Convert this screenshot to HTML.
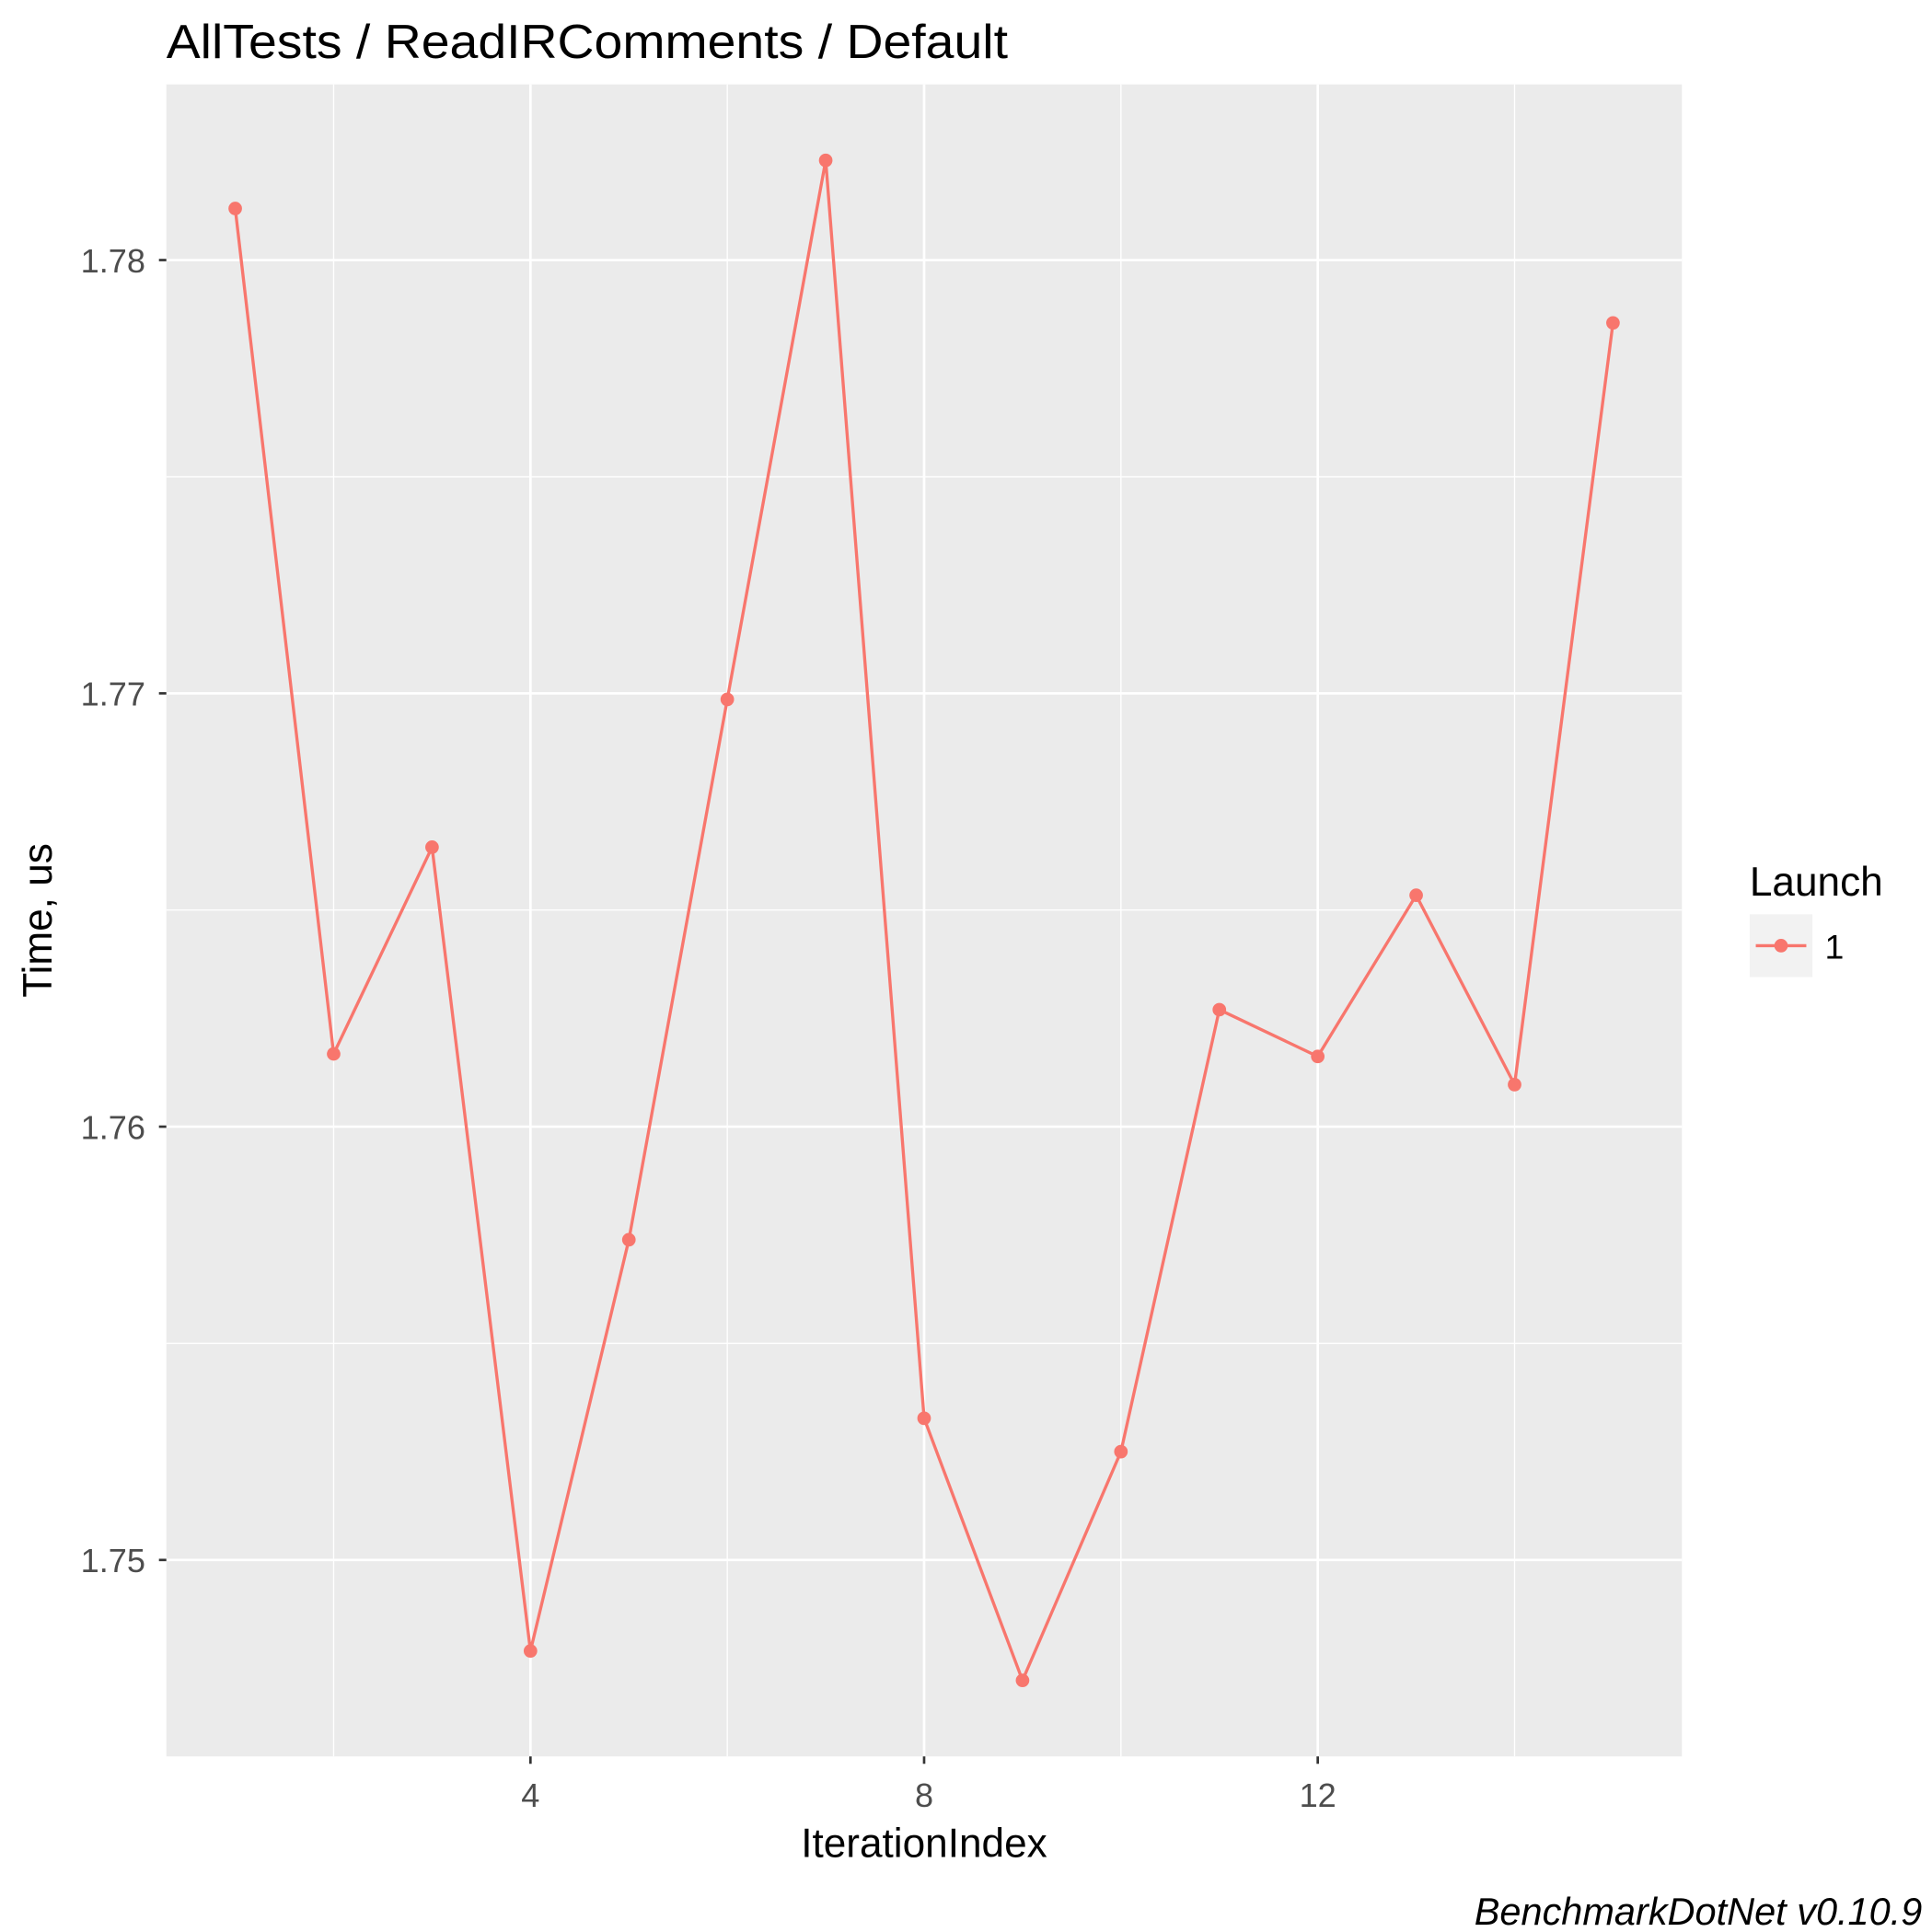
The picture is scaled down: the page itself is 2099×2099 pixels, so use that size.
<!DOCTYPE html>
<html><head><meta charset="utf-8"><style>
html,body{margin:0;padding:0;background:#fff}
svg{display:block}
text{font-family:"Liberation Sans",Arial,sans-serif}
</style></head><body>
<svg id="chart" width="2099" height="2099" viewBox="0 0 1568 1568" xmlns="http://www.w3.org/2000/svg">
<rect width="1568" height="1568" fill="#fff"/>
<text x="135" y="47" font-size="39" fill="#000" textLength="683" lengthAdjust="spacingAndGlyphs">AllTests / ReadIRComments / Default</text>
<rect x="135" y="68.5" width="1230" height="1357" fill="#ebebeb"/>
<g id="grid"></g>
<g id="series"></g>
<g id="axes"></g>
<text x="750" y="1507" font-size="33" text-anchor="middle" fill="#000">IterationIndex</text>
<text transform="translate(42,747) rotate(-90)" font-size="33" text-anchor="middle" fill="#000">Time, us</text>
<text x="1420" y="727" font-size="33" fill="#000">Launch</text>
<rect x="1420" y="742" width="51" height="51" fill="#f2f2f2"/>
<line x1="1425" y1="767.5" x2="1466" y2="767.5" stroke="#f8766d" stroke-width="2.5"/>
<circle cx="1445.5" cy="767.5" r="5.5" fill="#f8766d"/>
<text x="1481" y="778" font-size="28" fill="#000">1</text>
<text x="1560" y="1562" font-size="31" font-style="italic" text-anchor="end" fill="#000">BenchmarkDotNet v0.10.9</text>
</svg>
<script>
const iterations=[1,2,3,4,5,6,7,8,9,10,11,12,13,14,15];
const times=[1.78119,1.76168,1.76645,1.74790,1.75739,1.76986,1.7823,1.75327,1.74722,1.7525,1.7627,1.76162,1.76534,1.76097,1.77855];
const xTicks=[4,8,12];
const xMinor=[2,6,10,14];
const yTicks=[1.75,1.76,1.77,1.78];
const yTickLabels=["1.75","1.76","1.77","1.78"];
const yMinor=[1.755,1.765,1.775];

const NS="http://www.w3.org/2000/svg";
const L=135,R=1365,T=68.5,B=1425.5;
const xmin=Math.min(...iterations),xmax=Math.max(...iterations);
const ymin=Math.min(...times),ymax=Math.max(...times);
const xe=(xmax-xmin)*0.05,ye=(ymax-ymin)*0.05;
const X=v=>L+(v-(xmin-xe))/((xmax+xe)-(xmin-xe))*(R-L);
const Y=v=>B-(v-(ymin-ye))/((ymax+ye)-(ymin-ye))*(B-T);
function mk(tag,attrs,parent){const e=document.createElementNS(NS,tag);for(const k in attrs)e.setAttribute(k,attrs[k]);parent.appendChild(e);return e;}
const grid=document.getElementById('grid'),ser=document.getElementById('series'),ax=document.getElementById('axes');
xMinor.forEach(v=>{const e=mk('line',{x1:X(v),x2:X(v),y1:T,y2:B,stroke:'#fff','stroke-width':1},grid);

});
yMinor.forEach(v=>{const e=mk('line',{x1:L,x2:R,y1:Y(v),y2:Y(v),stroke:'#fff','stroke-width':1},grid);

});
xTicks.forEach(v=>{const e=mk('line',{x1:X(v),x2:X(v),y1:T,y2:B,stroke:'#fff','stroke-width':2},grid);


mk('line',{x1:X(v),x2:X(v),y1:B,y2:B+6,stroke:'#333','stroke-width':2},ax);
const t=mk('text',{x:X(v),y:B+41,'font-size':27,'text-anchor':'middle',fill:'#4d4d4d'},ax);t.textContent=v;

});
yTicks.forEach((v,i)=>{const e=mk('line',{x1:L,x2:R,y1:Y(v),y2:Y(v),stroke:'#fff','stroke-width':2},grid);


mk('line',{x1:L-6,x2:L,y1:Y(v),y2:Y(v),stroke:'#333','stroke-width':2},ax);
const t=mk('text',{x:L-17,y:Y(v)+10,'font-size':27,'text-anchor':'end',fill:'#4d4d4d'},ax);t.textContent=yTickLabels[i];

});
const pl=mk('polyline',{points:iterations.map((v,i)=>X(v)+','+Y(times[i])).join(' '),fill:'none',stroke:'#f8766d','stroke-width':2.5},ser);


iterations.forEach((v,i)=>{const c=mk('circle',{cx:X(v),cy:Y(times[i]),r:5.5,fill:'#f8766d'},ser);

});
</script>
</body></html>
